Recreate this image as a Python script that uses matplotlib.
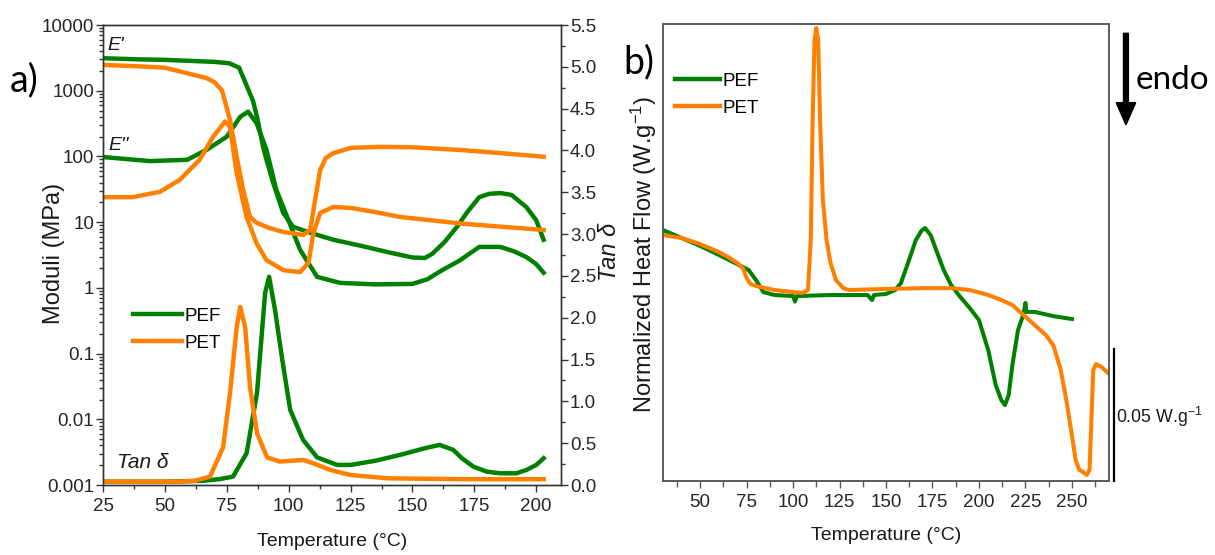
import matplotlib
matplotlib.use("Agg")
import matplotlib.pyplot as plt
from matplotlib.lines import Line2D
from matplotlib.ticker import MultipleLocator, FixedLocator, NullFormatter, FormatStrFormatter

plt.rcParams['font.family'] = ['Liberation Sans', 'DejaVu Sans']
plt.rcParams['mathtext.fontset'] = 'custom'
plt.rcParams['mathtext.rm'] = 'Liberation Sans'
plt.rcParams['mathtext.it'] = 'Liberation Sans:italic'

# colores
VERDE = '#008000'
NARANJA = '#ff8000'
CALIBRI = ['Lato', 'Liberation Sans']

# ---------- datos panel a) DMA ----------
t_e1_pef = [25, 40, 50, 60, 70, 76, 80, 83, 85.6, 87.2, 89.7, 91, 93.7, 97.8, 101.8, 108.7,
            118, 130, 140, 150, 155, 158, 163, 168, 172, 177, 181, 185.5, 190, 196, 200, 203]
e1_pef = [3126, 3000, 2950, 2850, 2750, 2620, 2240, 1200, 700, 400, 138, 90, 40, 13.8, 8.5, 6.9,
          5.4, 4.3, 3.5, 2.9, 2.85, 3.3, 5.0, 8.5, 14, 24, 27, 27.7, 26, 17, 10.7, 5.4]

t_e2_pef = [25, 44, 59, 67, 75, 80.4, 83.6, 87, 91, 95, 99.4, 104.6, 111.5, 120.8, 135, 150,
            156, 162, 169, 177, 185.5, 191, 196, 200, 203]
e2_pef = [98, 85, 89, 127, 200, 400, 480, 323, 127, 31, 12, 3.8, 1.47, 1.19, 1.13, 1.15,
          1.35, 1.86, 2.6, 4.2, 4.2, 3.6, 2.95, 2.3, 1.7]

t_e1_pet = [25, 40, 50, 62, 67, 70, 73, 76.3, 79, 81.6, 84.4, 87, 92, 97.8, 105.8, 108.7,
            110.7, 112.7, 115, 118, 125, 137, 150, 170, 185, 203]
e1_pet = [2470, 2350, 2240, 1730, 1550, 1350, 1020, 360, 98, 31, 12, 9.8, 8.2, 7.1, 6.4, 7.6,
          22, 62, 95, 112, 135, 140, 138, 125, 113, 99]

t_e2_pet = [25, 37, 48, 56, 64, 69.5, 74.3, 76.3, 79, 83, 87, 91, 97.8, 104.6, 108, 110,
            112.7, 118, 125, 137, 145, 170, 203]
e2_pet = [24, 24, 29, 44, 89, 200, 340, 280, 56, 12, 4.8, 2.65, 1.86, 1.74, 2.4, 6.9,
          13.8, 17, 16.5, 13.8, 12, 9.5, 7.6]

t_tan_pef = [25, 50, 65, 72, 77.5, 83, 87.2, 90.5, 92.1, 94.5, 97.4, 100.6, 105.8, 111.5, 119.6,
             125, 135, 145, 155, 161, 166.5, 170, 174.6, 180, 185.5, 192, 196, 200, 203]
tan_pef = [0.04, 0.04, 0.05, 0.07, 0.1, 0.38, 1.1, 2.30, 2.49, 2.09, 1.50, 0.90, 0.54, 0.33, 0.24,
           0.24, 0.29, 0.36, 0.44, 0.48, 0.42, 0.32, 0.22, 0.16, 0.14, 0.14, 0.18, 0.24, 0.32]

t_tan_pet = [25, 55, 62, 68.2, 73.5, 76.3, 79, 80.4, 82.4, 84.4, 87.2, 91.3, 96.5, 105.8, 110,
             116.8, 125, 140, 170, 203]
tan_pet = [0.04, 0.04, 0.05, 0.1, 0.45, 1.1, 1.89, 2.13, 1.89, 1.17, 0.62, 0.33, 0.28, 0.30, 0.26,
           0.18, 0.12, 0.08, 0.07, 0.07]

mod_ticks = [0.001, 0.01, 0.1, 1, 10, 100, 1000, 10000]
mod_labels = ['0.001', '0.01', '0.1', '1', '10', '100', '1000', '10000']

# ---------- datos panel b) DSC (W/g, offset arbitrario) ----------
t_dsc_pef = [30, 40, 50, 60, 70, 76, 80, 84, 90, 100, 101, 102, 120, 140, 142.5, 143.5, 150, 155,
             158, 162, 166, 169, 171, 174, 177, 181, 185, 190, 195, 200, 205, 209, 212, 214, 216,
             218, 221, 224, 225, 225.5, 230, 240, 250]
hf_pef = [0.0951, 0.0921, 0.0891, 0.0857, 0.0822, 0.0800, 0.0762, 0.0716, 0.0705, 0.0701, 0.0680,
          0.0701, 0.0705, 0.0705, 0.0686, 0.0705, 0.0709, 0.0724, 0.0750, 0.0830, 0.0913, 0.0948,
          0.0959, 0.0932, 0.0875, 0.0800, 0.0743, 0.0697, 0.0656, 0.0610, 0.0496, 0.0364, 0.0307,
          0.0288, 0.0326, 0.0440, 0.0572, 0.0633, 0.0675, 0.0641, 0.0641, 0.0625, 0.0614]

t_dsc_pet = [30, 40, 50, 60, 65, 70, 73, 75, 77, 80, 90, 100, 105, 108, 109.5, 110.5, 111.5, 112.5,
             113.5, 114.5, 116, 118, 120, 123, 127, 130, 150, 170, 185, 195, 205, 212, 218, 224,
             230, 236, 240, 244, 247, 250, 252, 254, 256, 258, 259.5, 260.5, 261.5, 263, 266, 269.5]
hf_pet = [0.0932, 0.0921, 0.0898, 0.0868, 0.0849, 0.0826, 0.0807, 0.0769, 0.0747, 0.0739, 0.0724,
          0.0716, 0.0713, 0.0724, 0.0913, 0.1368, 0.1671, 0.1717, 0.1671, 0.1368, 0.1065, 0.0913,
          0.0830, 0.0762, 0.0731, 0.0724, 0.0728, 0.0731, 0.0731, 0.0724, 0.0705, 0.0686, 0.0667,
          0.0629, 0.0591, 0.0553, 0.0515, 0.0421, 0.0307, 0.0174, 0.0080, 0.0042, 0.0034, 0.0023,
          0.0042, 0.0231, 0.0421, 0.0443, 0.0432, 0.0409]

# ---------- figura ----------
fig = plt.figure(figsize=(12.15, 5.55), dpi=100)
ax = fig.add_axes([0.0848, 0.1261, 0.3769, 0.8288])
ax2 = ax.twinx()
axb = fig.add_axes([0.5457, 0.1333, 0.3671, 0.8234])

LW_A = 3.2
ax.plot(t_e1_pef, e1_pef, color=VERDE, lw=LW_A)
ax.plot(t_e2_pef, e2_pef, color=VERDE, lw=LW_A)
ax.plot(t_e1_pet, e1_pet, color=NARANJA, lw=LW_A)
ax.plot(t_e2_pet, e2_pet, color=NARANJA, lw=LW_A)
ax2.plot(t_tan_pef, tan_pef, color=VERDE, lw=LW_A)
ax2.plot(t_tan_pet, tan_pet, color=NARANJA, lw=LW_A)

ax.set_yscale('log')
ax.set_ylim(0.001, 10000)
ax.set_xlim(25, 210)
ax.yaxis.set_major_locator(FixedLocator(mod_ticks))
ax.set_yticklabels(mod_labels)
ax.yaxis.set_minor_formatter(NullFormatter())
ax.xaxis.set_major_locator(MultipleLocator(25))
ax.xaxis.set_minor_locator(MultipleLocator(12.5))
ax2.set_ylim(0, 5.5)
ax2.yaxis.set_major_locator(MultipleLocator(0.5))
ax2.yaxis.set_minor_locator(MultipleLocator(0.25))
ax2.yaxis.set_major_formatter(FormatStrFormatter('%.1f'))

GRIS = '#333333'
for a in (ax, ax2):
    for s in a.spines.values():
        s.set_color(GRIS)
        s.set_linewidth(1.0)
    a.tick_params(which='both', direction='out', colors=GRIS, labelcolor='#262626',
                  labelsize=13.5, width=1.0)
    a.tick_params(which='major', length=5)
    a.tick_params(which='minor', length=3)
    a.tick_params(axis='y', pad=1.5)
    a.tick_params(axis='x', pad=4)

ax.set_xlabel('Temperature (°C)', fontsize=14, color='#1a1a1a')
ax.xaxis.set_label_coords(0.5, -0.105)
ax.set_ylabel('Moduli (MPa)', fontsize=17, color='#1a1a1a')
ax.yaxis.set_label_coords(-0.084, 0.504)
ax2.set_ylabel('Tan δ', fontsize=17, style='italic', color='#1a1a1a')
ax2.yaxis.set_label_coords(1.081, 0.507)

ax.text(0.01, 0.955, "E'", transform=ax.transAxes, style='italic',
        fontsize=14, color='#1a1a1a', va='center')
ax.text(0.012, 0.738, "E''", transform=ax.transAxes, style='italic',
        fontsize=14, color='#1a1a1a', va='center')
ax.text(0.03, 0.05, 'Tan δ', transform=ax.transAxes, style='italic',
        fontsize=15, color='#1a1a1a', va='center')

manejadores = [Line2D([], [], color=VERDE, lw=LW_A), Line2D([], [], color=NARANJA, lw=LW_A)]
leg_a = ax.legend(manejadores, ['PEF', 'PET'], loc='upper left', bbox_to_anchor=(0.065, 0.385),
                  frameon=False, borderpad=0, borderaxespad=0, handlelength=2.6,
                  handletextpad=0.15, labelspacing=0.5, prop={'size': 13.5})

fig.text(0.008, 0.855, 'a)', family=CALIBRI, fontsize=27, va='center', ha='left')

# panel b
LW_B = 2.9
axb.plot(t_dsc_pef, hf_pef, color=VERDE, lw=LW_B)
axb.plot(t_dsc_pet, hf_pet, color=NARANJA, lw=LW_B)
axb.set_xlim(30, 270)
axb.set_ylim(0, 0.1732)
axb.set_yticks([])
axb.xaxis.set_major_locator(FixedLocator([50, 75, 100, 125, 150, 175, 200, 225, 250]))
axb.xaxis.set_minor_locator(MultipleLocator(12.5))
for s in axb.spines.values():
    s.set_color('#5a5a5a')
    s.set_linewidth(1.4)
axb.tick_params(which='both', direction='out', colors='#5a5a5a', labelcolor='#262626',
                labelsize=13.5, width=1.0, pad=4)
axb.tick_params(which='major', length=5)
axb.tick_params(which='minor', length=4)
axb.set_xlabel('Temperature (°C)', fontsize=14, color='#1a1a1a')
axb.xaxis.set_label_coords(0.5, -0.1)
axb.set_ylabel('Normalized Heat Flow (W.g$^{-1}$)', fontsize=17, color='#1a1a1a')
axb.yaxis.set_label_coords(-0.01, 0.495)

leg_b = axb.legend(manejadores, ['PEF', 'PET'], loc='upper left', bbox_to_anchor=(0.027, 0.894),
                   frameon=False, borderpad=0, borderaxespad=0, handlelength=2.4,
                   handletextpad=0.15, labelspacing=0.55, prop={'size': 13.5})

# barra de escala 0.05 W/g
axb.plot([272.6, 272.6], [0, 0.05], color='k', lw=1.6, clip_on=False)
axb.text(274.0, 0.0243, '0.05 W.g$^{-1}$', fontsize=12.8, color='#1a1a1a',
         va='center', ha='left')

fig.text(0.513, 0.888, 'b)', family=CALIBRI, fontsize=27, va='center', ha='left')

# flecha endo
fig.patches.append(matplotlib.patches.FancyArrow(
    0.9267, 0.94, 0, -0.165, width=0.004, head_width=0.016, head_length=0.04,
    length_includes_head=True, color='k', transform=fig.transFigure, figure=fig))
fig.text(0.935, 0.856, 'endo', family=CALIBRI, fontsize=24, va='center', ha='left')

fig.savefig('out.png', dpi=100)
